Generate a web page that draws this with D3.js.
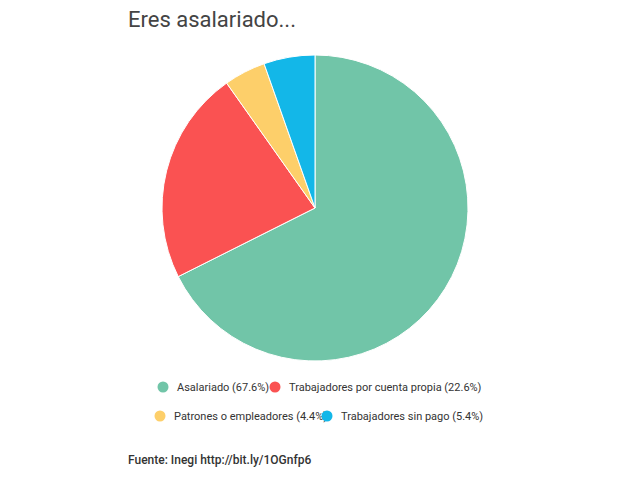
<!DOCTYPE html>
<html><head><meta charset="utf-8">
<script src="https://d3js.org/d3.v7.min.js"></script>
<style>body{margin:0;background:#fff}</style></head>
<body><svg id="c" width="640" height="480"></svg>
<script>
const categories=["Asalariado","Trabajadores por cuenta propia","Patrones o empleadores","Trabajadores sin pago"];
const values=[67.6,22.6,4.4,5.4];
const colors=["#71c5a8","#fa5252","#fdcf6a","#13b7e8"];
const svg=d3.select("#c");
svg.append("text").attr("x",128).attr("y",27).attr("font-family","Roboto").attr("font-size",22).attr("fill","#444").text("Eres asalariado...");
const pie=d3.pie().sort(null).value(d=>d);
const arc=d3.arc().innerRadius(0).outerRadius(153);
const g=svg.append("g").attr("transform","translate(315,208)");
g.selectAll("path").data(pie(values)).join("path").attr("d",arc).attr("fill",(d,i)=>colors[i]).attr("stroke","#fff").attr("stroke-width",1);
const leg=[[163,387],[275,387],[160,416],[327,416]];
categories.forEach((c,i)=>{
  svg.append("circle").attr("cx",leg[i][0]).attr("cy",leg[i][1]).attr("r",5.5).attr("fill",colors[i]);
  svg.append("text").attr("x",leg[i][0]+14).attr("y",leg[i][1]+4).attr("font-family","Roboto").attr("font-size",11).attr("fill","#333").text(`${c} (${values[i]}%)`);
});
svg.append("text").attr("x",128).attr("y",464).attr("font-family","Roboto").attr("font-size",12).attr("font-weight",500).attr("fill","#333").text("Fuente: Inegi http://bit.ly/1OGnfp6");
</script></body></html>
